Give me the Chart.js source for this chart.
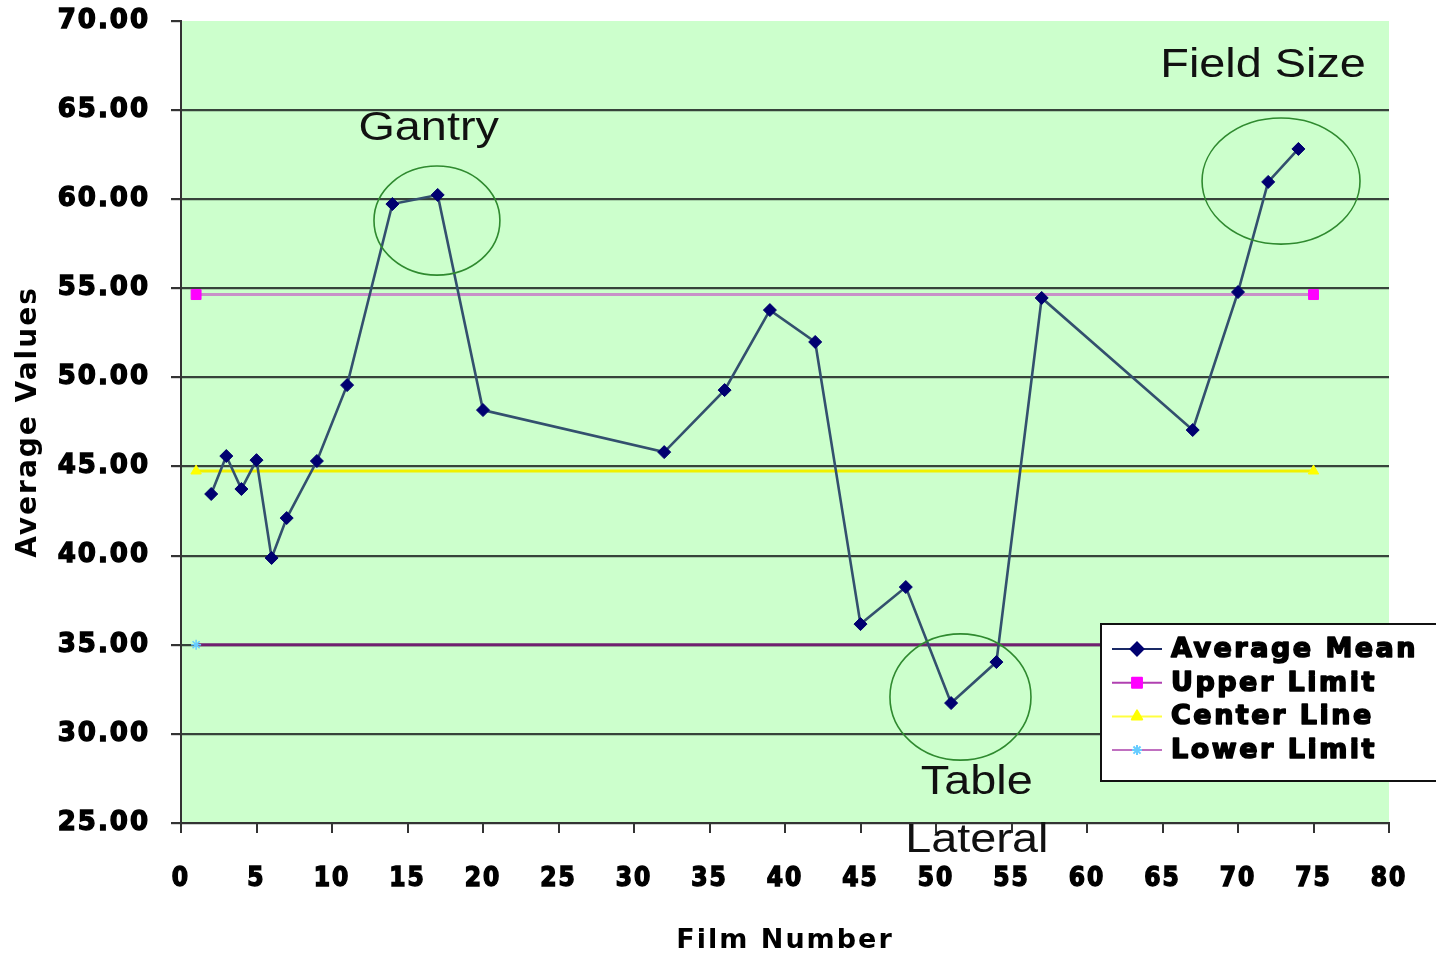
<!DOCTYPE html>
<html>
<head>
<meta charset="utf-8">
<title>Average Values by Film Number</title>
<script src="https://cdn.jsdelivr.net/npm/chart.js@4"></script>
<style>
  html, body { margin: 0; padding: 0; background: #ffffff; }
  #wrap { width: 1436px; height: 954px; position: relative; }
</style>
</head>
<body>
<div id="wrap"><canvas id="chart" width="1436" height="954"></canvas></div>
<script>
// ---- data ----
const filmNumbers = [2, 3, 4, 5, 6, 7, 9, 11, 14, 17, 20, 32, 36, 39, 42, 45, 48, 51, 54, 57, 67, 70, 72, 74];
const averageMean = [43.46, 45.59, 43.74, 45.36, 39.87, 42.11, 45.31, 49.57, 59.73, 60.24, 48.17, 45.81,
                     49.29, 53.78, 51.99, 36.16, 38.24, 31.73, 34.03, 54.46, 47.05, 54.79, 60.97, 62.82];
const limitFilms = [1, 75];
const upperLimit = [54.65, 54.65];
const centerLine = [44.75, 44.75];
const lowerLimit = [35.0, 35.0];
const seriesNames = ['Average Mean', 'Upper Limit', 'Center Line', 'Lower Limit'];
const xRange = [0, 80];
const yRange = [25, 70];
const tickStep = 5;

// circled regions and their captions, in axis units
const callouts = [
  { lines: ['Gantry'],           at: [16.4, 63.3],  ring: [16.95, 58.80, 4.17, 3.06] },
  { lines: ['Field Size'],       at: [71.66, 66.86], ring: [72.85, 61.02, 5.23, 3.54] },
  { lines: ['Table', 'Lateral'], at: [52.7, 26.62],  ring: [51.62, 32.07, 4.67, 3.54] }
];

const toPoints = (xs, ys) => xs.map((x, i) => ({ x: x, y: ys[i] }));

const BOLD = "'DejaVu Sans', sans-serif";
const SPACING = '2px';

// plot background + letter spacing for the heavy axis lettering
const backdrop = {
  id: 'backdrop',
  beforeUpdate(chart) { chart.ctx.letterSpacing = SPACING; },
  beforeLayout(chart) { chart.ctx.letterSpacing = SPACING; },
  beforeDraw(chart) {
    const { ctx, chartArea: a } = chart;
    ctx.letterSpacing = SPACING;
    ctx.save();
    ctx.fillStyle = '#ccffcc';
    ctx.fillRect(a.left, a.top, a.right - a.left, a.bottom - a.top);
    ctx.restore();
  }
};

// circled regions with captions
const calloutPlugin = {
  id: 'callouts',
  afterDraw(chart) {
    const { ctx } = chart;
    const xs = chart.scales.x, ys = chart.scales.y;
    ctx.save();
    ctx.letterSpacing = '0px';
    callouts.forEach(c => {
      const [cx, cy, rx, ry] = c.ring;
      const px = xs.getPixelForValue(cx), py = ys.getPixelForValue(cy);
      const prx = xs.getPixelForValue(cx + rx) - px;
      const pry = py - ys.getPixelForValue(cy + ry);
      ctx.beginPath();
      ctx.ellipse(px, py, prx, pry, 0, 0, Math.PI * 2);
      ctx.strokeStyle = '#2f8a2f';
      ctx.lineWidth = 1.6;
      ctx.stroke();

      const tx = xs.getPixelForValue(c.at[0]);
      const ty = ys.getPixelForValue(c.at[1]);
      ctx.font = "40px 'Liberation Sans', Arial, sans-serif";
      ctx.fillStyle = '#111111';
      ctx.textAlign = 'center';
      ctx.textBaseline = 'alphabetic';
      c.lines.forEach((line, i) => {
        ctx.save();
        ctx.translate(tx, ty + i * 58);
        ctx.scale(1.17, 1);
        ctx.fillText(line, 0, 0);
        ctx.restore();
      });
    });
    ctx.restore();
  }
};

// boxed legend overlapping the lower right of the plot
const legendBox = {
  id: 'legendBox',
  afterDraw(chart) {
    const { ctx } = chart;
    const a = chart.chartArea;
    const left = a.right - 288, top = a.bottom - 199, width = 345, height = 157;
    ctx.save();
    ctx.fillStyle = '#ffffff';
    ctx.fillRect(left, top, width, height);
    ctx.strokeStyle = '#111111';
    ctx.lineWidth = 2;
    ctx.strokeRect(left, top, width, height);

    ctx.letterSpacing = '2.5px';
    ctx.font = "bold 27px " + BOLD;
    ctx.textBaseline = 'middle';
    ctx.textAlign = 'left';
    chart.data.datasets.forEach((ds, i) => {
      const y = top + 25 + i * 33.7;
      const lx0 = left + 11, lx1 = left + 61, mx = (lx0 + lx1) / 2;
      ctx.beginPath();
      ctx.moveTo(lx0, y);
      ctx.lineTo(lx1, y);
      ctx.strokeStyle = ds.legendLine || ds.borderColor;
      ctx.lineWidth = 2;
      ctx.stroke();
      ctx.fillStyle = ds.pointBackgroundColor;
      ctx.strokeStyle = ds.pointBorderColor;
      if (Chart.helpers && Chart.helpers.drawPoint) {
        Chart.helpers.drawPoint(ctx, {
          pointStyle: ds.pointStyle, radius: ds.pointRadius, rotation: 0,
          borderWidth: ds.pointBorderWidth
        }, mx, y);
      } else {
        ctx.fillRect(mx - 4, y - 4, 8, 8);
      }
      ctx.fillStyle = '#000000';
      ctx.strokeStyle = '#000000';
      ctx.lineWidth = 1.6;
      ctx.lineJoin = 'round';
      ctx.strokeText(ds.label, left + 70, y + 1);
      ctx.fillText(ds.label, left + 70, y + 1);
    });
    ctx.restore();
  }
};

new Chart(document.getElementById('chart'), {
  type: 'line',
  data: {
    datasets: [
      {
        label: seriesNames[0],
        data: toPoints(filmNumbers, averageMean),
        borderColor: '#33506e', borderWidth: 2.6,
        pointStyle: 'rectRot', pointRadius: 6.5,
        pointBackgroundColor: '#000070', pointBorderColor: '#000070', pointBorderWidth: 1,
        legendLine: '#1a2a66',
        tension: 0
      },
      {
        label: seriesNames[1],
        data: toPoints(limitFilms, upperLimit),
        borderColor: '#c890c8', borderWidth: 3,
        pointStyle: 'rect', pointRadius: 7,
        pointBackgroundColor: '#ff00ff', pointBorderColor: '#ff00ff', pointBorderWidth: 1,
        legendLine: '#b040b0'
      },
      {
        label: seriesNames[2],
        data: toPoints(limitFilms, centerLine),
        borderColor: '#f0f000', borderWidth: 3,
        pointStyle: 'triangle', pointRadius: 6,
        pointBackgroundColor: '#ffff00', pointBorderColor: '#ffff00', pointBorderWidth: 1,
        legendLine: '#ffff40'
      },
      {
        label: seriesNames[3],
        data: toPoints(limitFilms, lowerLimit),
        borderColor: '#702070', borderWidth: 3,
        pointStyle: 'star', pointRadius: 5,
        pointBackgroundColor: '#66ccff', pointBorderColor: '#66ccff', pointBorderWidth: 1.5,
        legendLine: '#c070c0'
      }
    ]
  },
  options: {
    responsive: false,
    animation: false,
    devicePixelRatio: 1,
    layout: { padding: { left: 8, right: 47, top: 21, bottom: 0 } },
    plugins: {
      legend: { display: false },
      tooltip: { enabled: false },
      title: { display: false }
    },
    scales: {
      x: {
        type: 'linear', min: xRange[0], max: xRange[1],
        ticks: {
          stepSize: tickStep, padding: 31, color: '#000000', maxRotation: 0, autoSkip: false,
          textStrokeColor: '#000000', textStrokeWidth: 1.4,
          font: { family: "'DejaVu Sans Condensed', 'DejaVu Sans', sans-serif", size: 26, weight: 'bold' }
        },
        grid: { drawOnChartArea: false, drawTicks: true, tickLength: 10, color: '#333333', lineWidth: 2 },
        border: { display: true, color: '#333333', width: 2 },
        title: {
          display: true, text: 'Film Number', color: '#000000',
          font: { family: BOLD, size: 27, weight: 'bold', lineHeight: 1.0 }, padding: { top: 0, bottom: 0 }
        },
        afterFit(scale) {
          scale.height = 131;
          scale.paddingLeft = 0;
          scale.paddingRight = 0;
        }
      },
      y: {
        type: 'linear', min: yRange[0], max: yRange[1],
        ticks: {
          stepSize: tickStep, padding: 21, color: '#000000',
          textStrokeColor: '#000000', textStrokeWidth: 1.4,
          callback: v => Number(v).toFixed(2),
          font: { family: BOLD, size: 26, weight: 'bold' }
        },
        grid: {
          color: c => (c.tick && c.tick.value === yRange[1]) ? 'rgba(0,0,0,0)' : '#36433a',
          tickColor: '#333333', lineWidth: 2.2, tickLength: 10, drawTicks: true
        },
        border: { display: true, color: '#333333', width: 2 },
        title: {
          display: true, text: 'Average Values', color: '#000000',
          font: { family: BOLD, size: 28, weight: 'bold' }, padding: { top: 4, bottom: 0 }
        },
        afterFit(scale) {
          scale.width = 173;
          scale.paddingTop = 0;
          scale.paddingBottom = 0;
        }
      }
    }
  },
  plugins: [backdrop, calloutPlugin, legendBox]
});
</script>
</body>
</html>
